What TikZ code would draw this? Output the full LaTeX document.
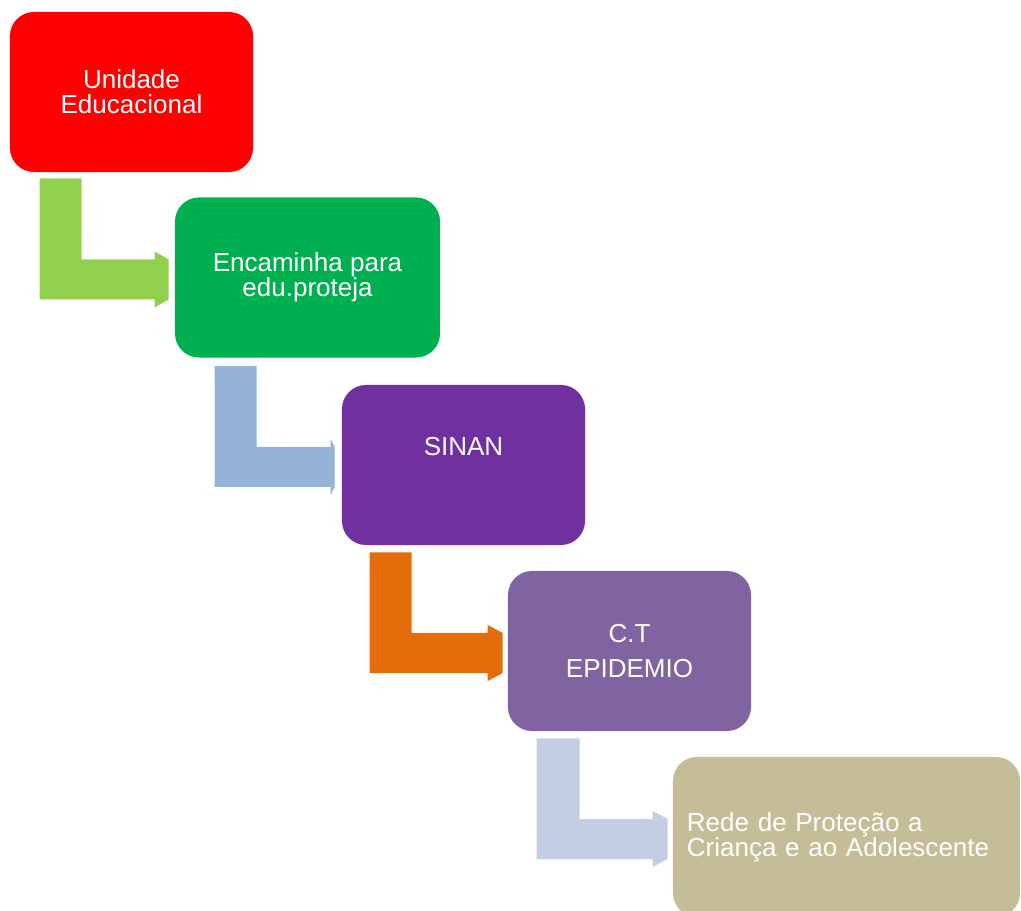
\documentclass[tikz,border=0pt]{standalone}
\usepackage{fontspec}
\setmainfont{Liberation Sans}
\usetikzlibrary{calc}

\definecolor{unidred}{HTML}{FF0000}
\definecolor{encgreen}{HTML}{00B050}
\definecolor{sinanpurple}{HTML}{7030A0}
\definecolor{ctpurple}{HTML}{8064A2}
\definecolor{redetan}{HTML}{C4BD97}
\definecolor{arrowgreen}{HTML}{92D050}
\definecolor{arrowblue}{HTML}{95B3D7}
\definecolor{arroworange}{HTML}{E46C0A}
\definecolor{arrowgrey}{HTML}{C3CEE2}

\begin{document}
\begin{tikzpicture}[
    x=0.025cm, y=-0.025cm,
    stage/.style={rectangle, rounded corners=0.6cm, minimum width=6.075cm, minimum height=4cm, inner sep=0pt, text=white, align=center, font=\fontsize{18.5}{17.8}\selectfont},
    wide/.style={minimum width=6.625cm}
]
\useasboundingbox (0,0) rectangle (1021,911);

% Stages
\node[stage, fill=unidred] (unid) at (131.5,92) {Unidade\\Educacional};
\node[stage, wide, fill=encgreen] (enc) at (307.5,277.5) {Encaminha para\\edu.proteja};
\node[stage, fill=sinanpurple, text depth=0.95cm] (sinan) at (463.5,465) {SINAN};
\node[stage, fill=ctpurple] (ct) at (629.5,651) {C.T\\[0.25cm]EPIDEMIO};
\node[stage, fill=redetan, minimum width=8.675cm, text width=7.975cm, align=left] (rede) at (846.5,837) {Rede de Proteção a\\Criança e ao Adolescente};

% Bent arrows
\fill[arrowgreen] ($(unid.south west)+(30,6)$) -- ++(42,0) |- ($(enc.west)+(-20,-18)$) -- ++(0,-8) -- ++(14,8) -- ++(0,40) -- ++(-14,8) -- ++(0,-8) -| ($(unid.south west)+(30,6)$) -- cycle;
\fill[arrowblue] ($(enc.south west)+(40,8)$) -- ++(42,0) |- ($(sinan.west)+(-11,-18)$) -- ++(0,-8) -- ++(4,8) -- ++(0,40) -- ++(-4,8) -- ++(0,-8) -| ($(enc.south west)+(40,8)$) -- cycle;
\fill[arroworange] ($(sinan.south west)+(28,7)$) -- ++(42,0) |- ($(ct.west)+(-20,-18)$) -- ++(0,-8) -- ++(15,8) -- ++(0,40) -- ++(-15,8) -- ++(0,-8) -| ($(sinan.south west)+(28,7)$) -- cycle;
\fill[arrowgrey] ($(ct.south west)+(29,7)$) -- ++(43,0) |- ($(rede.west)+(-20,-18)$) -- ++(0,-8) -- ++(15,8) -- ++(0,40) -- ++(-15,8) -- ++(0,-8) -| ($(ct.south west)+(29,7)$) -- cycle;

\end{tikzpicture}
\end{document}
